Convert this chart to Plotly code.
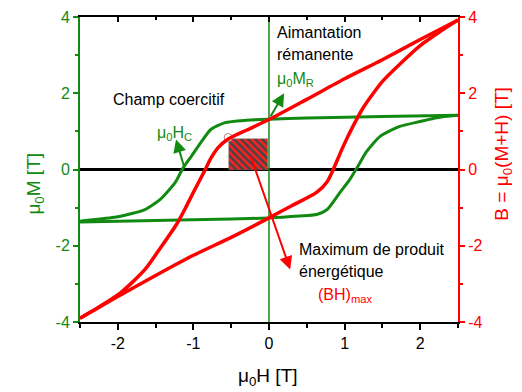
import plotly.graph_objects as go

# ---- data ----
# green: magnetisation mu0*M, descending branch (H decreasing)
H_m_down = [2.5, 1.5, 0.5, 0.0, -0.3, -0.58, -0.77, -0.9, -1.03, -1.14, -1.24, -1.43, -1.64, -2.0, -2.43, -2.5]
M_down   = [1.42, 1.39, 1.35, 1.32, 1.29, 1.23, 1.05, 0.71, 0.34, 0.03, -0.34, -0.77, -1.05, -1.24, -1.34, -1.36]
# green: ascending branch (H increasing)
H_m_up = [-2.5, -1.5, -0.5, 0.0, 0.4, 0.63, 0.77, 0.94, 1.07, 1.16, 1.29, 1.47, 1.73, 2.0, 2.22, 2.5]
M_up   = [-1.38, -1.34, -1.3, -1.27, -1.22, -1.18, -1.05, -0.6, -0.26, 0.03, 0.47, 0.87, 1.13, 1.26, 1.36, 1.42]

# red: induction B, descending branch
H_b_down = [2.5, 2.0, 1.5, 1.0, 0.5, 0.0, -0.3, -0.54, -0.67, -0.77, -0.85, -0.98, -1.11, -1.22, -1.43, -1.64, -1.96, -2.26, -2.5]
B_down   = [3.92, 3.41, 2.88, 2.38, 1.84, 1.31, 1.03, 0.8, 0.58, 0.29, -0.03, -0.52, -1.03, -1.43, -2.04, -2.62, -3.23, -3.62, -3.9]
# red: ascending branch
H_b_up = [-2.5, -2.0, -1.5, -1.0, -0.5, 0.0, 0.3, 0.63, 0.77, 0.85, 0.98, 1.11, 1.24, 1.38, 1.51, 1.75, 2.0, 2.25, 2.5]
B_up   = [-3.9, -3.33, -2.78, -2.25, -1.78, -1.27, -0.95, -0.6, -0.32, 0.0, 0.6, 1.13, 1.6, 2.0, 2.33, 2.8, 3.25, 3.6, 3.92]

# (BH)max rectangle and working point
rect_H = [-0.53, -0.01]
rect_B = [0.0, 0.8]
work_H = [-0.54]
work_B = [0.84]

x_ticks = [-2, -1, 0, 1, 2]
x_labels = ["-2", "-1", "0", "1", "2"]
y_ticks = [-4, -2, 0, 2, 4]
y_labels = ["-4", "-2", "0", "2", "4"]

GREEN = "#128a12"
RED = "#ff0000"
FONT = "Liberation Sans, Arial, sans-serif"

fig = go.Figure()

# hatched (BH)max rectangle drawn as a patterned bar
fig.add_trace(go.Bar(
    x=[(rect_H[0] + rect_H[1]) / 2], y=[rect_B[1] - rect_B[0]], base=[rect_B[0]],
    width=[rect_H[1] - rect_H[0]],
    marker=dict(color="#454545", line=dict(width=0.5, color="#777777"),
                pattern=dict(shape="\\", fgcolor="#ff2020", bgcolor="#454545", size=5, solidity=0.5,
                             fillmode="replace")),
    hoverinfo="skip", showlegend=False))

# green curves
for hx, my in [(H_m_down, M_down), (H_m_up, M_up)]:
    fig.add_trace(go.Scatter(x=hx, y=my, mode="lines",
                             line=dict(color=GREEN, width=3, shape="spline", smoothing=0.6),
                             showlegend=False))
# red curves (right axis, same scale)
for hx, by in [(H_b_down, B_down), (H_b_up, B_up)]:
    fig.add_trace(go.Scatter(x=hx, y=by, mode="lines", xaxis="x2", yaxis="y2",
                             line=dict(color=RED, width=3.5, shape="spline", smoothing=0.7),
                             showlegend=False))

fig.add_trace(go.Scatter(x=work_H, y=work_B, mode="markers",
                         marker=dict(size=8, color="white", line=dict(color="#c08080", width=1)),
                         showlegend=False))

# reference lines
fig.add_shape(type="line", xref="paper", yref="y", x0=0, x1=1, y0=0, y1=0,
              line=dict(color="black", width=3), layer="below")
fig.add_shape(type="line", xref="x", yref="paper", x0=0, x1=0, y0=0, y1=1,
              line=dict(color=GREEN, width=1.5), layer="below")

def txt(x, y, s, color="black", size=16):
    fig.add_annotation(x=x, y=y, xref="x", yref="y", text=s, showarrow=False,
                       xanchor="left", yanchor="middle",
                       font=dict(family=FONT, size=size, color=color))

txt(0.08, 3.6, "Aimantation")
txt(0.08, 3.02, "rémanente")
txt(0.08, 2.35, "μ<sub>0</sub>M<sub>R</sub>", GREEN)
txt(-2.09, 1.84, "Champ coercitif")
txt(-1.51, 0.95, "μ<sub>0</sub>H<sub>C</sub>", GREEN)
txt(0.37, -2.1, "Maximum de produit")
txt(0.37, -2.68, "énergétique")
txt(0.62, -3.3, "(BH)<sub>max</sub>", RED)

def arrow(x0, y0, x1, y1, color):
    fig.add_annotation(x=x1, y=y1, ax=x0, ay=y0, xref="x", yref="y", axref="x", ayref="y",
                       text="", showarrow=True, arrowhead=2, arrowsize=1.3,
                       arrowwidth=2, arrowcolor=color)

arrow(-1.12, 0.05, -1.23, 0.79, GREEN)
arrow(0.01, 1.36, 0.2, 2.0, GREEN)
arrow(-0.25, 0.39, 0.28, -2.62, RED)

# axis titles as annotations for precise placement
fig.add_annotation(xref="paper", yref="y", x=0, y=-0.37, xshift=-45, text="μ<sub>0</sub>M [T]",
                   textangle=-90, showarrow=False, xanchor="center", yanchor="middle",
                   font=dict(family=FONT, size=19, color=GREEN))
fig.add_annotation(xref="paper", yref="y", x=1, y=0.39, xshift=45, text="B = μ<sub>0</sub>(M+H) [T]",
                   textangle=-90, showarrow=False, xanchor="center", yanchor="middle",
                   font=dict(family=FONT, size=19, color=RED))
fig.add_annotation(xref="x", yref="paper", x=-0.01, y=0, yshift=-55, text="μ<sub>0</sub>H [T]",
                   showarrow=False, xanchor="center", yanchor="middle",
                   font=dict(family=FONT, size=19, color="black"))

fig.update_layout(
    width=522, height=392,
    margin=dict(l=72, r=72, t=9, b=78, autoexpand=False),
    paper_bgcolor="white", plot_bgcolor="white",
    font=dict(family=FONT),
    bargap=0,
    xaxis=dict(range=[-2.5, 2.5], tickvals=x_ticks, ticktext=x_labels, automargin=False,
               ticks="outside", ticklen=6, tickwidth=2, tickcolor="black",
               minor=dict(dtick=0.5, ticks="outside", ticklen=4, tickwidth=2, tickcolor="black"),
               showline=True, linecolor="black", linewidth=2, showgrid=False, zeroline=False,
               tickfont=dict(family=FONT, size=16, color="black")),
    xaxis2=dict(range=[-2.5, 2.5], overlaying="x", side="top", tickvals=x_ticks, automargin=False,
                showticklabels=False, ticks="inside", ticklen=5, tickwidth=2, tickcolor="black",
                minor=dict(dtick=0.5, ticks="inside", ticklen=3, tickwidth=2, tickcolor="black"),
                showline=True, linecolor="black", linewidth=2, showgrid=False, zeroline=False),
    yaxis=dict(range=[-4, 4], tickvals=y_ticks, ticktext=y_labels, automargin=False,
               ticks="outside", ticklen=5, tickwidth=2, tickcolor=GREEN,
               minor=dict(dtick=1, ticks="outside", ticklen=3, tickwidth=2, tickcolor=GREEN),
               showline=True, linecolor=GREEN, linewidth=2, showgrid=False, zeroline=False,
               tickfont=dict(family=FONT, size=16, color=GREEN)),
    yaxis2=dict(range=[-4, 4], overlaying="y", side="right", tickvals=y_ticks, ticktext=y_labels,
                automargin=False,
                ticks="outside", ticklen=5, tickwidth=2, tickcolor=RED,
                minor=dict(dtick=1, ticks="outside", ticklen=3, tickwidth=2, tickcolor=RED),
                showline=True, linecolor=RED, linewidth=2, showgrid=False, zeroline=False,
                tickfont=dict(family=FONT, size=16, color=RED)),
)

fig.write_html("out.html")
